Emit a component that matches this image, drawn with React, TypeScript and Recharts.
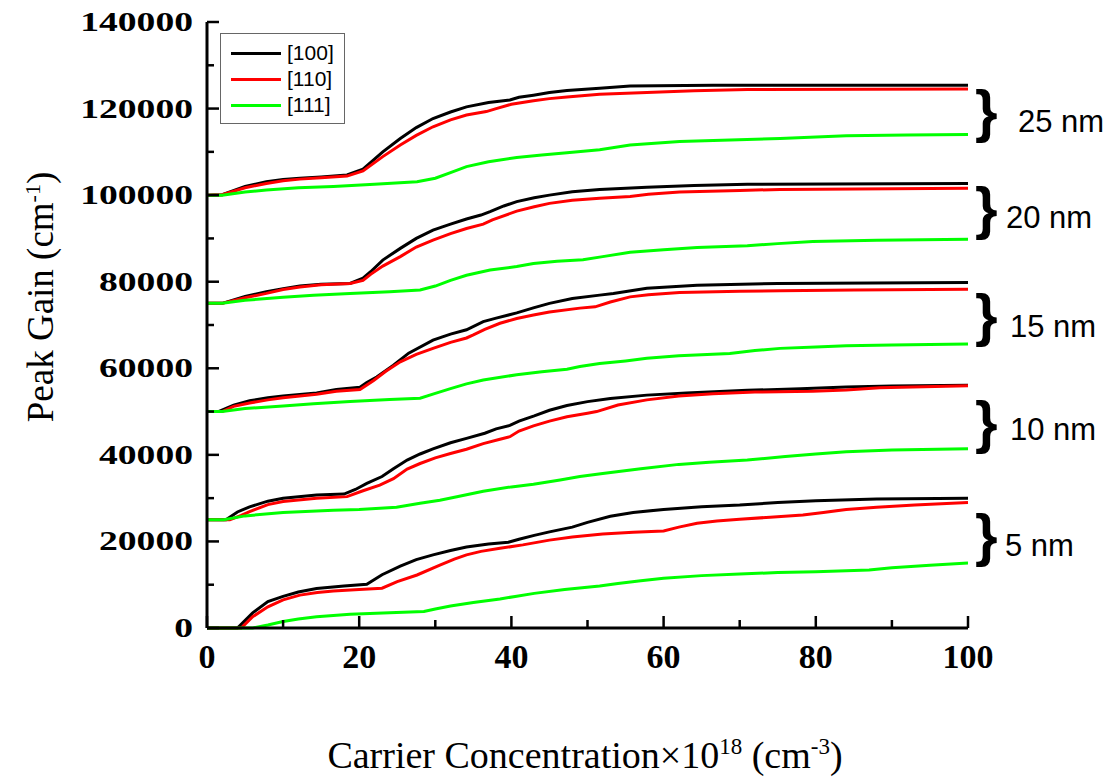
import React from "react";
import { LineChart, Line, XAxis, YAxis } from "recharts";

// [carrier concentration (1e18 cm^-3), peak gain (cm^-1)]
type Pt = [number, number];

const x_ticks = [0, 10, 20, 30, 40, 50, 60, 70, 80, 90, 100];
const y_ticks = [0, 10000, 20000, 30000, 40000, 50000, 60000, 70000, 80000, 90000, 100000, 110000, 120000, 130000, 140000];

const nm5_100: Pt[] = [[0,0],[4,0],[6,3500],[8,6100],[10,7300],[12,8300],[14.4,9100],[18,9700],[21,10100],[23,12300],[25.4,14300],[27.5,15800],[29.7,16900],[32,17900],[34.1,18700],[37,19400],[39.6,19800],[41,20500],[43,21400],[45,22200],[48,23300],[50,24400],[53,25800],[56,26700],[60,27400],[65,28000],[70,28400],[75,29000],[80,29400],[88,29800],[100,30000]];
const nm5_110: Pt[] = [[0,0],[4.5,0],[6,2600],[8,4900],[10,6500],[12.2,7600],[14.5,8200],[16.6,8550],[20,8900],[23,9200],[25,10700],[27.6,12250],[30.6,14500],[32.5,15900],[34.1,16900],[36,17700],[38.5,18400],[41.5,19200],[45,20300],[48,21000],[52,21700],[56,22100],[60,22400],[62,23300],[64.4,24200],[67,24700],[70,25100],[74,25600],[78.3,26100],[81,26700],[84,27400],[88,27900],[93,28400],[100,29000]];
const nm5_111: Pt[] = [[0,0],[6,0],[8,700],[10,1500],[12,2100],[14.4,2600],[18.8,3200],[24,3500],[28.5,3800],[30,4400],[32,5100],[35,5900],[38.5,6700],[40.5,7300],[43,8000],[47,8900],[51.6,9700],[54,10300],[57,10900],[60,11500],[65,12100],[70,12500],[75,12800],[80,13000],[87,13400],[90,13900],[95,14500],[100,15000]];

const nm10_100: Pt[] = [[0,25000],[2.5,25000],[4,26800],[5.6,28000],[8,29300],[10,29950],[14.4,30700],[18,30950],[19.5,32000],[21,33400],[23,35000],[24.5,36800],[26.3,38800],[28,40200],[29.7,41400],[32,42800],[34.1,43800],[36.5,45000],[38,46000],[39.8,46800],[41,47800],[43,49000],[45,50300],[47.3,51400],[50,52300],[53,53000],[57.8,53800],[63,54300],[71,54900],[78,55300],[84,55700],[90,55900],[100,56100]];
const nm10_110: Pt[] = [[0,25000],[3,25000],[4.5,26000],[5.6,26900],[8,28500],[10,29200],[14.4,29950],[18.4,30350],[20.5,31700],[22.7,33000],[24.5,34500],[26.3,36700],[28,38000],[30,39300],[32,40300],[34.1,41300],[36.3,42600],[38.5,43600],[39.8,44200],[41,45500],[42.9,46700],[45,47800],[47.3,48800],[50,49600],[51.2,50000],[54,51500],[57.8,52700],[62,53600],[66.5,54100],[72,54500],[79.6,54700],[84,55000],[88.4,55500],[100,55950]];
const nm10_111: Pt[] = [[0,25000],[2.2,25000],[5,25900],[10,26700],[16.6,27200],[20,27400],[24.9,27900],[28,28800],[30.6,29500],[33,30400],[36.3,31600],[40,32600],[42.9,33200],[46.4,34200],[49,35000],[52,35700],[57,36800],[62,37800],[66,38300],[71,38800],[76,39600],[80,40200],[84,40700],[90,41100],[100,41400]];

const nm15_100: Pt[] = [[0,50000],[1.5,50000],[3.5,51500],[5.6,52500],[8,53200],[10,53600],[14.4,54300],[17,55100],[20.1,55600],[21,56700],[22.3,58000],[24.5,60700],[26.5,63500],[29.7,66500],[32,67900],[34.1,68900],[36.3,70800],[38,71600],[40.7,72800],[43,74000],[45,75000],[48,76100],[51.6,76900],[53.4,77300],[57.8,78500],[64.4,79200],[75,79600],[100,79800]];
const nm15_110: Pt[] = [[0,50000],[2,50000],[3.5,51200],[5.6,52000],[8,52700],[10,53200],[14.4,54000],[17,54700],[20.1,55100],[21.9,57200],[23.5,59300],[25.4,61500],[27.5,63200],[29.7,64600],[32,66000],[34.1,67000],[35,67700],[36.5,69000],[38.5,70400],[40.7,71500],[42.9,72300],[45,73000],[49,73900],[51,74200],[53,75300],[55.6,76500],[58,77000],[62.1,77500],[70,77800],[75.3,77900],[85,78100],[100,78250]];
const nm15_111: Pt[] = [[0,50000],[2,50000],[5,50700],[10,51300],[14,51800],[18.8,52300],[24,52800],[28,53100],[30,54200],[32,55300],[34.1,56400],[36.3,57300],[40.7,58500],[44,59200],[47.3,59800],[49,60400],[51.6,61100],[55,61700],[57.8,62300],[62,62900],[68.7,63400],[72,64100],[75.3,64600],[80,64900],[84,65200],[90,65400],[100,65600]];

const nm20_100: Pt[] = [[0,75000],[2,75000],[5,76600],[7.8,77700],[10,78400],[12.2,79000],[15,79400],[18.8,79600],[20.5,80800],[21.5,82300],[23.1,85000],[25.4,87700],[27.5,90000],[29.7,91900],[32,93300],[34.1,94500],[36,95400],[37.2,96200],[39,97500],[40.7,98500],[43,99400],[45,100000],[48,100800],[51.6,101300],[57.8,101800],[64,102200],[71,102500],[100,102700]];
const nm20_110: Pt[] = [[0,75000],[2,75000],[5,76300],[7.8,77300],[10,78200],[12.2,78800],[15,79300],[18.8,79600],[20.5,80300],[21.5,81700],[23.1,83600],[25.4,85800],[27.5,88000],[29.7,89600],[32,91100],[34.1,92300],[36.3,93300],[37.5,94300],[40.7,96300],[43,97300],[45,98100],[48,98800],[51.6,99300],[55.6,99700],[58,100200],[62.1,100700],[70,101100],[75.3,101300],[100,101600]];
const nm20_111: Pt[] = [[0,75000],[2,75000],[5,75700],[10,76400],[14,76900],[18.8,77300],[24,77700],[28,78100],[30,79000],[32,80300],[34.1,81500],[37.2,82700],[40.7,83500],[42.9,84200],[46,84700],[49.4,85100],[52,85800],[55.6,86800],[60,87400],[64.4,87900],[71,88300],[75,88800],[79.6,89300],[88,89600],[100,89800]];

const nm25_100: Pt[] = [[0,100000],[2,100100],[5,102000],[7.8,103100],[10,103600],[12.2,103900],[15,104200],[18.4,104650],[20.5,106000],[23.1,110000],[25.4,113100],[27.5,115600],[29.7,117700],[32,119200],[34.1,120400],[37,121400],[39.8,122000],[41,122600],[42.9,123100],[45,123700],[47.3,124200],[51.6,124700],[55.6,125200],[66.5,125400],[100,125400]];
const nm25_110: Pt[] = [[0,100000],[2,100100],[5,101700],[7.8,102700],[10,103300],[12.2,103700],[15,104000],[18.4,104400],[20.5,105600],[23.1,108900],[25.4,111600],[27.5,113800],[29.7,115800],[32,117400],[34.1,118500],[36.7,119300],[38,120000],[40,121000],[42.9,121800],[45,122300],[47.3,122700],[51.6,123300],[57.8,123700],[64,124100],[71,124400],[100,124500]];
const nm25_111: Pt[] = [[0,100000],[2,100000],[5,100700],[7.8,101200],[12,101700],[16.6,102000],[22,102500],[27.6,103100],[30,103900],[32,105200],[34.1,106600],[37,107700],[40.7,108700],[44,109300],[47.3,109800],[51.6,110500],[55.6,111600],[62.1,112400],[75.3,113100],[84,113700],[92,113900],[100,114000]];

const colors = { "100": "#000000", "110": "#ff0000", "111": "#00ff00" };

const series = [
  { id: "5-100", dir: "100", pts: nm5_100 }, { id: "5-110", dir: "110", pts: nm5_110 }, { id: "5-111", dir: "111", pts: nm5_111 },
  { id: "10-100", dir: "100", pts: nm10_100 }, { id: "10-110", dir: "110", pts: nm10_110 }, { id: "10-111", dir: "111", pts: nm10_111 },
  { id: "15-100", dir: "100", pts: nm15_100 }, { id: "15-110", dir: "110", pts: nm15_110 }, { id: "15-111", dir: "111", pts: nm15_111 },
  { id: "20-100", dir: "100", pts: nm20_100 }, { id: "20-110", dir: "110", pts: nm20_110 }, { id: "20-111", dir: "111", pts: nm20_111 },
  { id: "25-100", dir: "100", pts: nm25_100 }, { id: "25-110", dir: "110", pts: nm25_110 }, { id: "25-111", dir: "111", pts: nm25_111 },
];

// thickness groups on the right, top to bottom
const groups = [
  { label: "25 nm", braceTop: 73, textLeft: 1010, textTop: 97 },
  { label: "20 nm", braceTop: 170, textLeft: 998, textTop: 193 },
  { label: "15 nm", braceTop: 277, textLeft: 1002, textTop: 302 },
  { label: "10 nm", braceTop: 384, textLeft: 1002, textTop: 405 },
  { label: "5 nm", braceTop: 497, textLeft: 997, textTop: 521 },
];

const serif = "'Liberation Serif', 'Times New Roman', serif";
const sans = "'Liberation Sans', Arial, sans-serif";

const YTick = (props: any) => {
  const { x, y, payload } = props;
  const v = payload.value;
  const major = v % 20000 === 0;
  const s = String(v);
  return (
    <g>
      <line x1={x + 14} x2={x + 14 + (major ? 12 : 7)} y1={y} y2={y} stroke="#000" strokeWidth={2.5} />
      {major && (
        <text x={x} y={y} dy={9} textAnchor="end" fontFamily={serif} fontWeight="bold" fontSize={27}
          textLength={s.length * 18.8} lengthAdjust="spacingAndGlyphs" fill="#000">{s}</text>
      )}
    </g>
  );
};

const XTick = (props: any) => {
  const { x, y, payload } = props;
  const v = payload.value;
  const major = v % 20 === 0;
  return (
    <g>
      <line x1={x} x2={x} y1={y - 14} y2={y - 14 - (major ? 12 : 8)} stroke="#000" strokeWidth={2.5} />
      {major && (
        <text x={x} y={y} dy={26} textAnchor="middle" fontFamily={serif} fontWeight="bold" fontSize={34} fill="#000">{v}</text>
      )}
    </g>
  );
};

const TopTick = (props: any) => {
  const { x, y, payload } = props;
  const major = payload.value % 20 === 0;
  return <line x1={x} x2={x} y1={y} y2={y + (major ? 6 : 4)} stroke="#000" strokeWidth={1.5} />;
};

const RightTick = (props: any) => {
  const { x, y, payload } = props;
  const major = payload.value % 20000 === 0;
  return <line x1={x} x2={x - (major ? 6 : 4)} y1={y} y2={y} stroke="#000" strokeWidth={1.5} />;
};

export default function App() {
  return (
    <div style={{ position: "relative", width: 1104, height: 774, background: "#fff" }}>
      <LineChart width={1104} height={680} margin={{ top: 14, right: 144, bottom: 0, left: 0 }}>
        <XAxis xAxisId="b" type="number" dataKey="x" domain={[0, 100]} ticks={x_ticks} interval={0}
          height={60} tickSize={0} tickMargin={14} tick={XTick} axisLine={{ stroke: "#000", strokeWidth: 3 }} allowDuplicatedCategory={false} />
        <XAxis xAxisId="t" orientation="top" type="number" dataKey="x" domain={[0, 100]} ticks={x_ticks} interval={0}
          height={0} tickSize={0} tickMargin={0} tick={TopTick} axisLine={{ stroke: "#000", strokeWidth: 2 }} />
        <YAxis yAxisId="l" type="number" domain={[0, 140000]} ticks={y_ticks} interval={0} width={199}
          tickSize={0} tickMargin={14} tick={YTick} axisLine={{ stroke: "#000", strokeWidth: 3 }} />
        <YAxis yAxisId="r" orientation="right" type="number" domain={[0, 140000]} ticks={y_ticks} interval={0} width={0}
          tickSize={0} tickMargin={0} tick={RightTick} axisLine={{ stroke: "#000", strokeWidth: 2 }} />
        {series.map((s) => (
          <Line key={s.id} xAxisId="b" yAxisId="l" data={s.pts.map(([x, y]) => ({ x, y }))} dataKey="y"
            type="linear" stroke={colors[s.dir as keyof typeof colors]} strokeWidth={3} dot={false}
            isAnimationActive={false} />
        ))}
      </LineChart>

      {/* legend */}
      <div style={{ position: "absolute", left: 212, top: 25, width: 125, height: 91, border: "1px solid #666", boxSizing: "border-box", background: "#fff" }}>
        {(["100", "110", "111"] as const).map((d, i) => (
          <div key={d} style={{ position: "absolute", left: 10, top: 6 + i * 26, height: 26, display: "flex", alignItems: "center" }}>
            <div style={{ width: 50, height: 3, background: colors[d] }} />
            <span style={{ marginLeft: 6, fontFamily: sans, fontSize: 21, color: "#000" }}>[{d}]</span>
          </div>
        ))}
      </div>

      {/* thickness braces */}
      {groups.map((g) => (
        <React.Fragment key={g.label}>
          <div style={{ position: "absolute", left: 967, top: g.braceTop, fontFamily: sans, fontWeight: "bold", fontSize: 58, lineHeight: "60px", color: "#000" }}>{"}"}</div>
          <div style={{ position: "absolute", left: g.textLeft, top: g.textTop, fontFamily: sans, fontSize: 31, lineHeight: "34px", color: "#000", whiteSpace: "nowrap" }}>{g.label}</div>
        </React.Fragment>
      ))}

      {/* axis titles */}
      <div style={{ position: "absolute", left: 0, width: 1104, top: 717, textAlign: "center", paddingLeft: 50, boxSizing: "border-box", fontFamily: serif, fontSize: 38, lineHeight: "44px", color: "#000", whiteSpace: "nowrap" }}>
        Carrier Concentration×10<sup style={{ fontSize: 23 }}>18</sup> (cm<sup style={{ fontSize: 23 }}>-3</sup>)
      </div>
      <div style={{ position: "absolute", left: 29, top: 289, width: 0, height: 0 }}>
        <div style={{ position: "absolute", left: 0, top: 0, transform: "translate(-50%, -50%) rotate(-90deg)", fontFamily: serif, fontSize: 37, lineHeight: "44px", color: "#000", whiteSpace: "nowrap" }}>
          Peak Gain (cm<sup style={{ fontSize: 22 }}>-1</sup>)
        </div>
      </div>
    </div>
  );
}
